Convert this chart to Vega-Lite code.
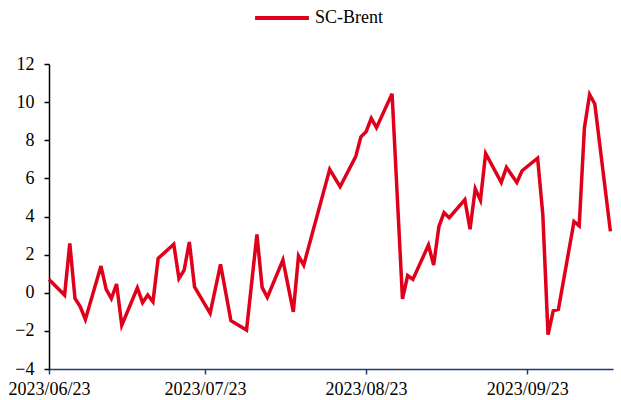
{
  "$schema": "https://vega.github.io/schema/vega-lite/v6.json",
  "width": 564,
  "height": 305,
  "autosize": {"type": "none"},
  "padding": {"left": 49, "top": 64, "right": 8, "bottom": 31},
  "background": "white",
  "config": {
    "view": {"stroke": null},
    "font": "Liberation Serif"
  },
  "data": {
    "values": [
      {"date": "2023-06-23", "v": 0.70},
      {"date": "2023-06-26", "v": -0.12},
      {"date": "2023-06-27", "v": 2.59},
      {"date": "2023-06-28", "v": -0.30},
      {"date": "2023-06-29", "v": -0.73},
      {"date": "2023-06-30", "v": -1.40},
      {"date": "2023-07-03", "v": 1.40},
      {"date": "2023-07-04", "v": 0.18},
      {"date": "2023-07-05", "v": -0.30},
      {"date": "2023-07-06", "v": 0.46},
      {"date": "2023-07-07", "v": -1.70},
      {"date": "2023-07-10", "v": 0.26},
      {"date": "2023-07-11", "v": -0.52},
      {"date": "2023-07-12", "v": -0.12},
      {"date": "2023-07-13", "v": -0.47},
      {"date": "2023-07-14", "v": 1.80},
      {"date": "2023-07-17", "v": 2.55},
      {"date": "2023-07-18", "v": 0.75},
      {"date": "2023-07-19", "v": 1.19},
      {"date": "2023-07-20", "v": 2.66},
      {"date": "2023-07-21", "v": 0.31},
      {"date": "2023-07-24", "v": -1.08},
      {"date": "2023-07-26", "v": 1.49},
      {"date": "2023-07-28", "v": -1.47},
      {"date": "2023-07-31", "v": -1.96},
      {"date": "2023-08-02", "v": 3.06},
      {"date": "2023-08-03", "v": 0.28},
      {"date": "2023-08-04", "v": -0.24},
      {"date": "2023-08-07", "v": 1.72},
      {"date": "2023-08-09", "v": -1.00},
      {"date": "2023-08-10", "v": 1.93},
      {"date": "2023-08-11", "v": 1.45},
      {"date": "2023-08-16", "v": 6.47},
      {"date": "2023-08-18", "v": 5.56},
      {"date": "2023-08-21", "v": 7.14},
      {"date": "2023-08-22", "v": 8.18},
      {"date": "2023-08-23", "v": 8.45},
      {"date": "2023-08-24", "v": 9.15},
      {"date": "2023-08-25", "v": 8.66},
      {"date": "2023-08-28", "v": 10.44},
      {"date": "2023-08-30", "v": -0.32},
      {"date": "2023-08-31", "v": 0.90},
      {"date": "2023-09-01", "v": 0.70},
      {"date": "2023-09-04", "v": 2.50},
      {"date": "2023-09-05", "v": 1.45},
      {"date": "2023-09-06", "v": 3.46},
      {"date": "2023-09-07", "v": 4.20},
      {"date": "2023-09-08", "v": 3.94},
      {"date": "2023-09-11", "v": 4.88},
      {"date": "2023-09-12", "v": 3.33},
      {"date": "2023-09-13", "v": 5.45},
      {"date": "2023-09-14", "v": 4.85},
      {"date": "2023-09-15", "v": 7.31},
      {"date": "2023-09-18", "v": 5.79},
      {"date": "2023-09-19", "v": 6.58},
      {"date": "2023-09-21", "v": 5.79},
      {"date": "2023-09-22", "v": 6.40},
      {"date": "2023-09-25", "v": 7.06},
      {"date": "2023-09-26", "v": 4.10},
      {"date": "2023-09-27", "v": -2.20},
      {"date": "2023-09-28", "v": -0.95},
      {"date": "2023-09-29", "v": -0.87},
      {"date": "2023-10-02", "v": 3.74},
      {"date": "2023-10-03", "v": 3.51},
      {"date": "2023-10-04", "v": 8.65},
      {"date": "2023-10-05", "v": 10.40},
      {"date": "2023-10-06", "v": 9.90},
      {"date": "2023-10-09", "v": 3.22}
    ]
  },
  "mark": {"type": "line", "strokeWidth": 3.5, "strokeJoin": "miter", "clip": false},
  "encoding": {
    "x": {
      "field": "date",
      "type": "temporal",
      "title": null,
      "scale": {
        "type": "utc",
        "domain": [
          {"year": 2023, "month": 6, "date": 23, "utc": true},
          {"year": 2023, "month": 10, "date": 9, "hours": 12, "utc": true}
        ]
      },
      "axis": {
        "values": [
          {"year": 2023, "month": 6, "date": 23, "utc": true},
          {"year": 2023, "month": 7, "date": 23, "utc": true},
          {"year": 2023, "month": 8, "date": 23, "utc": true},
          {"year": 2023, "month": 9, "date": 23, "utc": true}
        ],
        "labelExpr": "utcFormat(datum.value, '%Y/%m/%d')",
        "grid": false,
        "domainColor": "#1F3A78",
        "domainWidth": 1.5,
        "tickColor": "#1F3A78",
        "tickWidth": 1.5,
        "tickSize": 5,
        "labelPadding": 6,
        "labelFont": "Liberation Serif",
        "labelFontSize": 18,
        "labelColor": "#000000",
        "labelAlign": "center",
        "labelFlush": false,
        "labelOverlap": false
      }
    },
    "y": {
      "field": "v",
      "type": "quantitative",
      "title": null,
      "scale": {"domain": [-4, 12], "nice": false, "zero": false},
      "axis": {
        "values": [-4, -2, 0, 2, 4, 6, 8, 10, 12],
        "grid": false,
        "domainColor": "#000000",
        "domainWidth": 1.5,
        "tickColor": "#000000",
        "tickWidth": 1.5,
        "tickSize": 5,
        "labelPadding": 10,
        "labelFont": "Liberation Serif",
        "labelFontSize": 18,
        "labelColor": "#000000"
      }
    },
    "color": {
      "datum": "SC-Brent",
      "scale": {"range": ["#E0001B"]},
      "legend": {
        "title": null,
        "orient": "none",
        "legendX": 204,
        "legendY": -75,
        "padding": 0,
        "symbolType": "stroke",
        "symbolSize": 2900,
        "symbolStrokeWidth": 4,
        "labelFont": "Liberation Serif",
        "labelFontSize": 18,
        "labelColor": "#000000",
        "labelOffset": 4
      }
    }
  }
}
